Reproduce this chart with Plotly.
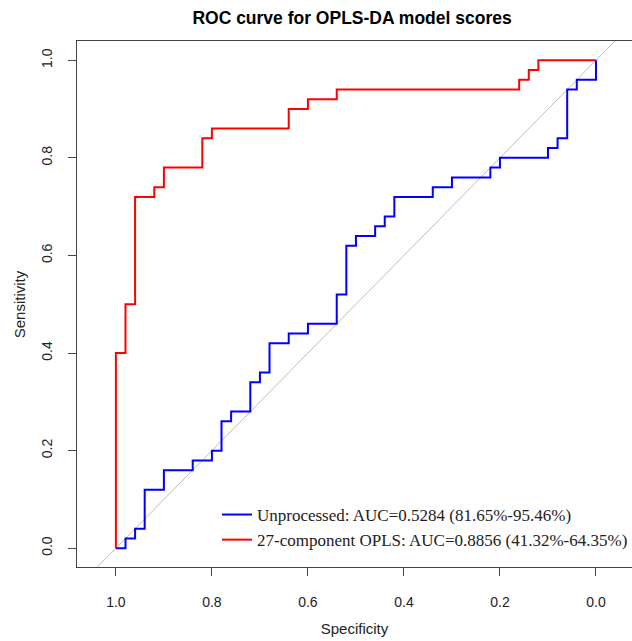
import plotly.graph_objects as go

# ROC coordinates (specificity, sensitivity)
opls_spec = [1.0, 1.0, 0.98, 0.98, 0.96, 0.96, 0.92, 0.92, 0.90, 0.90, 0.82, 0.82, 0.80, 0.80,
             0.64, 0.64, 0.60, 0.60, 0.54, 0.54, 0.16, 0.16, 0.14, 0.14, 0.12, 0.12, 0.0]
opls_sens = [0.0, 0.40, 0.40, 0.50, 0.50, 0.72, 0.72, 0.74, 0.74, 0.78, 0.78, 0.84, 0.84, 0.86,
             0.86, 0.90, 0.90, 0.92, 0.92, 0.94, 0.94, 0.96, 0.96, 0.98, 0.98, 1.0, 1.0]

raw_spec = [1.0, 0.98, 0.98, 0.96, 0.96, 0.94, 0.94, 0.90, 0.90, 0.84, 0.84, 0.80, 0.80, 0.78,
            0.78, 0.76, 0.76, 0.72, 0.72, 0.70, 0.70, 0.68, 0.68, 0.64, 0.64, 0.60, 0.60, 0.54,
            0.54, 0.52, 0.52, 0.50, 0.50, 0.46, 0.46, 0.44, 0.44, 0.42, 0.42, 0.34, 0.34, 0.30,
            0.30, 0.22, 0.22, 0.20, 0.20, 0.10, 0.10, 0.08, 0.08, 0.06, 0.06, 0.04, 0.04, 0.0, 0.0]
raw_sens = [0.0, 0.0, 0.02, 0.02, 0.04, 0.04, 0.12, 0.12, 0.16, 0.16, 0.18, 0.18, 0.20, 0.20,
            0.26, 0.26, 0.28, 0.28, 0.34, 0.34, 0.36, 0.36, 0.42, 0.42, 0.44, 0.44, 0.46, 0.46,
            0.52, 0.52, 0.62, 0.62, 0.64, 0.64, 0.66, 0.66, 0.68, 0.68, 0.72, 0.72, 0.74, 0.74,
            0.76, 0.76, 0.78, 0.78, 0.80, 0.80, 0.82, 0.82, 0.84, 0.84, 0.94, 0.94, 0.96, 0.96, 1.0]

# chance diagonal (specificity + sensitivity = 1)
diag_spec = [1.2, -0.2]
diag_sens = [-0.2, 1.2]

tick_vals = [1.0, 0.8, 0.6, 0.4, 0.2, 0.0]
tick_text = ["1.0", "0.8", "0.6", "0.4", "0.2", "0.0"]

raw_label = "Unprocessed: AUC=0.5284 (81.65%-95.46%)"
opls_label = "27-component OPLS: AUC=0.8856 (41.32%-64.35%)"

fig = go.Figure()
fig.add_trace(go.Scatter(x=diag_spec, y=diag_sens, mode="lines",
                         line=dict(color="#BDBDBD", width=1), showlegend=False, hoverinfo="skip"))
fig.add_trace(go.Scatter(x=raw_spec, y=raw_sens, mode="lines", name=raw_label,
                         line=dict(color="#0000FF", width=2), legendgroup="a"))
fig.add_trace(go.Scatter(x=opls_spec, y=opls_sens, mode="lines", name=opls_label,
                         line=dict(color="#FF0000", width=2), legendgroup="b"))

sans = "Liberation Sans, Arial, sans-serif"
axis_font = dict(family=sans, size=14, color="#222")

fig.update_layout(
    width=632, height=641,
    margin=dict(l=77, r=0, t=41, b=74, autoexpand=False),
    paper_bgcolor="white", plot_bgcolor="white",
    title=dict(text="<b>ROC curve for OPLS-DA model scores</b>",
               font=dict(family=sans, size=17.5, color="black"),
               x=0.557, xanchor="center", y=0.972, yanchor="middle"),
    xaxis=dict(range=[1.081, -0.075], tickvals=tick_vals, ticktext=tick_text,
               showgrid=False, zeroline=False, showline=True, mirror=True,
               linecolor="#444", linewidth=1, ticks="outside", ticklen=8, tickcolor="#444",
               tickfont=axis_font, ticklabelstandoff=14,
               title=dict(text="Specificity", font=dict(family=sans, size=15, color="#222"),
                          standoff=14)),
    yaxis=dict(range=[-0.0385, 1.0395], tickvals=tick_vals, ticktext=tick_text,
               showgrid=False, zeroline=False, showline=True, mirror=False,
               linecolor="#444", linewidth=1, ticks="outside", ticklen=8, tickcolor="#444",
               tickfont=axis_font, tickangle=-90, ticklabelstandoff=10),
    legend=dict(xref="container", yref="container", x=0.3433, y=0.1295,
                xanchor="left", yanchor="bottom",
                bgcolor="rgba(0,0,0,0)", borderwidth=0,
                font=dict(family="Liberation Serif, Times New Roman, serif", size=17, color="#222"),
                traceorder="grouped", tracegroupgap=0),
    showlegend=True,
    annotations=[dict(text="Sensitivity", xref="paper", yref="paper", x=-0.104, y=0.5,
                      xanchor="center", yanchor="middle", textangle=-90, showarrow=False,
                      font=dict(family=sans, size=15, color="#222"))],
)

fig.write_html("out.html")
